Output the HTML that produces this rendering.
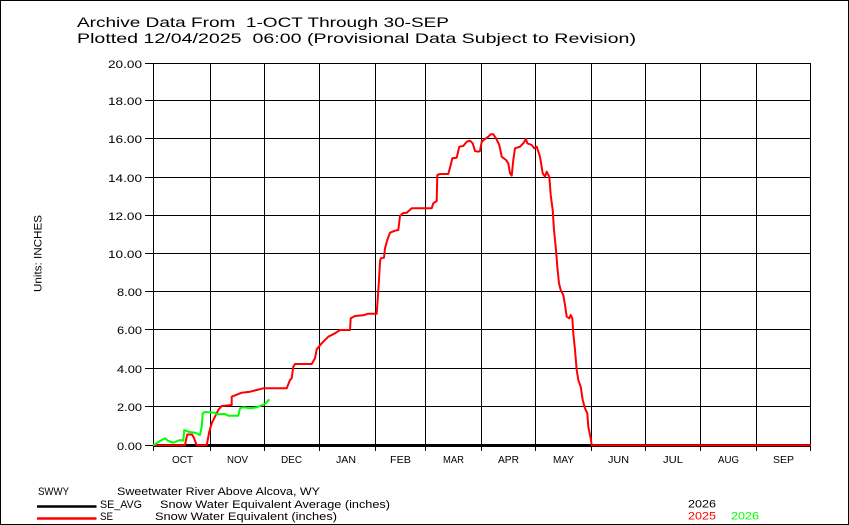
<!DOCTYPE html>
<html>
<head>
<meta charset="utf-8">
<style>
html,body{margin:0;padding:0;background:#fff;}
svg{display:block;}
text{font-family:"Liberation Sans",sans-serif;fill:#000;}
</style>
</head>
<body>
<svg width="849" height="525" viewBox="0 0 849 525" xmlns="http://www.w3.org/2000/svg">
<rect x="0" y="0" width="849" height="525" fill="#fff"/>
<rect x="0.5" y="0.5" width="848" height="524" fill="none" stroke="#000" stroke-width="1"/>

<!-- Title -->
<text x="77" y="27" font-size="14" textLength="372" lengthAdjust="spacingAndGlyphs" xml:space="preserve">Archive Data From  1-OCT Through 30-SEP</text>
<text x="77" y="43" font-size="14" textLength="559" lengthAdjust="spacingAndGlyphs" xml:space="preserve">Plotted 12/04/2025  06:00 (Provisional Data Subject to Revision)</text>

<!-- Grid horizontal -->
<g stroke="#000" stroke-width="1" shape-rendering="crispEdges">
<line x1="145" y1="63.5" x2="811" y2="63.5"/>
<line x1="145" y1="100.5" x2="811" y2="100.5"/>
<line x1="145" y1="138.5" x2="811" y2="138.5"/>
<line x1="145" y1="177.5" x2="811" y2="177.5"/>
<line x1="145" y1="215.5" x2="811" y2="215.5"/>
<line x1="145" y1="253.5" x2="811" y2="253.5"/>
<line x1="145" y1="291.5" x2="811" y2="291.5"/>
<line x1="145" y1="329.5" x2="811" y2="329.5"/>
<line x1="145" y1="368.5" x2="811" y2="368.5"/>
<line x1="145" y1="406.5" x2="811" y2="406.5"/>
<line x1="145" y1="445.5" x2="811" y2="445.5"/>
<!-- vertical -->
<line x1="153.5" y1="63" x2="153.5" y2="451"/>
<line x1="210.5" y1="63" x2="210.5" y2="451"/>
<line x1="264.5" y1="63" x2="264.5" y2="451"/>
<line x1="319.5" y1="63" x2="319.5" y2="451"/>
<line x1="375.5" y1="63" x2="375.5" y2="451"/>
<line x1="425.5" y1="63" x2="425.5" y2="451"/>
<line x1="481.5" y1="63" x2="481.5" y2="451"/>
<line x1="535.5" y1="63" x2="535.5" y2="451"/>
<line x1="591.5" y1="63" x2="591.5" y2="451"/>
<line x1="645.5" y1="63" x2="645.5" y2="451"/>
<line x1="700.5" y1="63" x2="700.5" y2="451"/>
<line x1="756.5" y1="63" x2="756.5" y2="451"/>
<line x1="810.5" y1="63" x2="810.5" y2="451"/>
</g>

<!-- Y labels -->
<g font-size="11" text-anchor="end">
<text x="142" y="68" textLength="34" lengthAdjust="spacingAndGlyphs">20.00</text>
<text x="142" y="105" textLength="34" lengthAdjust="spacingAndGlyphs">18.00</text>
<text x="142" y="143" textLength="34" lengthAdjust="spacingAndGlyphs">16.00</text>
<text x="142" y="182" textLength="34" lengthAdjust="spacingAndGlyphs">14.00</text>
<text x="142" y="220" textLength="34" lengthAdjust="spacingAndGlyphs">12.00</text>
<text x="142" y="258" textLength="34" lengthAdjust="spacingAndGlyphs">10.00</text>
<text x="142" y="296" textLength="25" lengthAdjust="spacingAndGlyphs">8.00</text>
<text x="142" y="334" textLength="25" lengthAdjust="spacingAndGlyphs">6.00</text>
<text x="142" y="373" textLength="25" lengthAdjust="spacingAndGlyphs">4.00</text>
<text x="142" y="411" textLength="25" lengthAdjust="spacingAndGlyphs">2.00</text>
<text x="142" y="450" textLength="25" lengthAdjust="spacingAndGlyphs">0.00</text>
</g>

<!-- X labels -->
<g font-size="10.5" text-anchor="middle">
<text x="182.5" y="463" textLength="21" lengthAdjust="spacingAndGlyphs">OCT</text>
<text x="237.5" y="463" textLength="21" lengthAdjust="spacingAndGlyphs">NOV</text>
<text x="291.5" y="463" textLength="21" lengthAdjust="spacingAndGlyphs">DEC</text>
<text x="346" y="463" textLength="20" lengthAdjust="spacingAndGlyphs">JAN</text>
<text x="400.5" y="463" textLength="21" lengthAdjust="spacingAndGlyphs">FEB</text>
<text x="453.5" y="463" textLength="21" lengthAdjust="spacingAndGlyphs">MAR</text>
<text x="508.5" y="463" textLength="21" lengthAdjust="spacingAndGlyphs">APR</text>
<text x="563.5" y="463" textLength="21" lengthAdjust="spacingAndGlyphs">MAY</text>
<text x="618.5" y="463" textLength="21" lengthAdjust="spacingAndGlyphs">JUN</text>
<text x="673" y="463" textLength="20" lengthAdjust="spacingAndGlyphs">JUL</text>
<text x="728.5" y="463" textLength="21" lengthAdjust="spacingAndGlyphs">AUG</text>
<text x="783.5" y="463" textLength="21" lengthAdjust="spacingAndGlyphs">SEP</text>
</g>

<!-- Units -->
<text transform="translate(41.5,253.5) rotate(-90)" font-size="11" text-anchor="middle" textLength="77" lengthAdjust="spacingAndGlyphs">Units: INCHES</text>

<!-- Average (black thick) -->
<line x1="153" y1="445.5" x2="811" y2="445.5" stroke="#000" stroke-width="3"/>

<!-- SE 2025 red -->
<polyline fill="none" stroke="#ff0000" stroke-width="2" stroke-linejoin="round" points="
153,445.3 185,445.3 186,440 187.3,434.5 192,434.5 194,438 196.7,445.3 206.7,445.3
209.3,431.7 211.7,423.3 215,416.7 218.3,410 221.7,406 231.7,405 231.7,396.7 241.7,392.7
250,391.7 256.7,390 263.3,388.3 286.7,388.3 290,380 291.7,378.3 293.3,366.7 295,364
311.7,364 315,358.3 316.7,349.3 321.7,343.3 328.3,336.7 335,333.3 340,330 350,330
350.7,318.3 355,316 363.3,315.3 368.3,313.7 376.7,313.7 377.3,305 379,280 380,261.7
380.7,258.3 384,257.7 385,248.3 387.3,240 390,232.7 395,230.7 398.3,230 400,216
402.7,213.3 406.7,212.7 411.7,208.3 431.7,208.3 433.3,203.3 436.7,201 437.3,175
440,174 448.3,174 450.7,165 452.3,158.3 456.7,157.7 459.3,146.7 463.3,146 466.7,141.7
470,140.7 472.7,143.3 475,151 478.3,151.7 480,151 481.7,141.7 485,139 488.3,136.7
490.7,134.3 493.3,134.3 496,138.3 499.3,145 501.7,156.7 506,160 508.3,163.3 510,173.3
511.7,175.7 513.3,160 515,148.3 520,146.7 523.3,143.3 526,139 527.3,143.3 531.7,145
534.3,148.3 536.7,146.7 540,156.7 542.7,173.3 545,176.7 546.7,171.7 549.3,176.7
550.7,195 552.7,210 554,230 556,250 557.3,266.7 559,283.3 560.7,290 563.3,295 565,305
566.7,316.7 569.3,318.3 570.7,315 572.3,318.3 573.3,333.3 575,350 576.7,370 578.3,380
580.7,386.7 582.7,400 585,408.3 587.3,413.3 588.3,426.7 590.7,438.3 591.7,445.3 811,445.3"/>

<!-- SE 2026 green -->
<polyline fill="none" stroke="#00ff00" stroke-width="2" stroke-linejoin="round" points="
153,445 155,444.3 160,441 165,438.3 168.3,441 173.3,442.7 180,440 183.3,440.7 184.3,430
188.3,431.7 195,432.7 200,435 201.7,426.7 202.7,413.3 205,412 215,412.7 216.7,414.3
225,414 228.3,415.7 238.3,415.7 240,408.3 243.3,407.3 250,408.3 256.7,407.3 265,404 269.3,399.3"/>

<!-- Legend -->
<g font-size="11">
<text x="38" y="495" textLength="31" lengthAdjust="spacingAndGlyphs">SWWY</text>
<text x="117" y="495" textLength="203" lengthAdjust="spacingAndGlyphs">Sweetwater River Above Alcova, WY</text>
<text x="100" y="508" textLength="42" lengthAdjust="spacingAndGlyphs">SE_AVG</text>
<text x="160" y="508" textLength="230" lengthAdjust="spacingAndGlyphs">Snow Water Equivalent Average (inches)</text>
<text x="100" y="520" textLength="13" lengthAdjust="spacingAndGlyphs">SE</text>
<text x="155" y="520" textLength="182" lengthAdjust="spacingAndGlyphs">Snow Water Equivalent (inches)</text>
<text x="688" y="507.5" textLength="28" lengthAdjust="spacingAndGlyphs">2026</text>
<text x="688" y="519.5" textLength="28" lengthAdjust="spacingAndGlyphs" style="fill:#ff0000">2025</text>
<text x="731" y="519.5" textLength="28" lengthAdjust="spacingAndGlyphs" style="fill:#00ff00">2026</text>
</g>
<line x1="37" y1="506.5" x2="96.5" y2="506.5" stroke="#000" stroke-width="2.5"/>
<line x1="37" y1="518.5" x2="96.5" y2="518.5" stroke="#ff0000" stroke-width="2.5"/>
</svg>
</body>
</html>
